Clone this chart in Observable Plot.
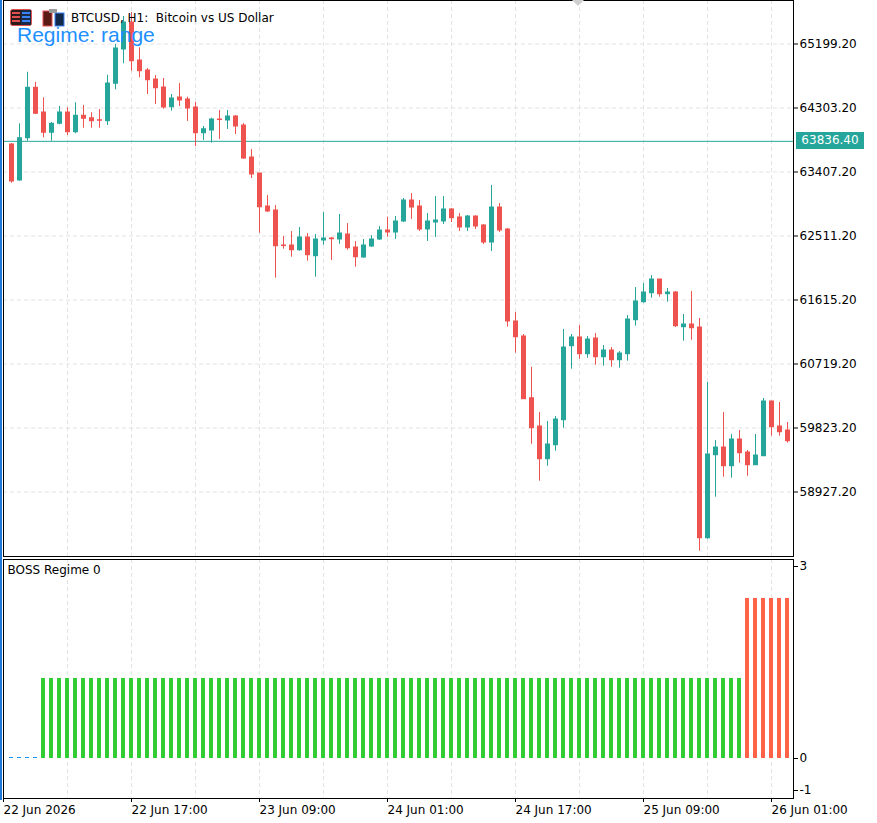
<!DOCTYPE html>
<html><head><meta charset="utf-8">
<script src="https://cdn.jsdelivr.net/npm/d3@7"></script>
<script src="https://cdn.jsdelivr.net/npm/@observablehq/plot@0.6"></script>
<style>
body{margin:0;background:#fff;}
#wrap{position:relative;width:877px;height:823px;overflow:hidden;background:#fff;font-family:"DejaVu Sans",sans-serif;}
.abs{position:absolute;}
</style></head><body>
<div id="wrap">
  <div id="main" class="abs" style="left:0;top:0"></div>
  <div id="sub" class="abs" style="left:0;top:557px"></div>
  <div class="abs" style="left:0;top:0;width:2px;height:800px;background:#1E78D7"></div>
  <svg class="abs" style="left:0;top:0" width="877" height="30">
    <polygon points="572,0 584,0 578,6" fill="#cfcfcf"/>
    <rect x="10.5" y="9.5" width="21" height="16" rx="2" fill="#2b1a1a" stroke="#e05050"/>
    <rect x="21" y="10" width="10" height="15" fill="#1b2a44"/>
    <rect x="12" y="12" width="8" height="2" fill="#e05050"/><rect x="22" y="12" width="8" height="2" fill="#3b82f6"/>
    <rect x="12" y="16" width="8" height="2" fill="#e05050"/><rect x="22" y="16" width="8" height="2" fill="#3b82f6"/>
    <rect x="12" y="20" width="8" height="2" fill="#e05050"/><rect x="22" y="20" width="8" height="2" fill="#3b82f6"/>
    <rect x="43" y="11" width="9" height="15" fill="#5a1c14" stroke="#e05050"/>
    <rect x="55" y="13" width="9" height="13" fill="#13294a" stroke="#3b82f6"/>
    <rect x="49" y="9" width="8" height="4" fill="#9a9a9a"/>
  </svg>
  <div class="abs" style="left:71px;top:11px;font-size:12px;line-height:14px;white-space:pre;color:#000">BTCUSD, H1:  Bitcoin vs US Dollar</div>
  <div class="abs" style="left:17px;top:24px;font-family:'Liberation Sans',Arial,sans-serif;font-size:21px;line-height:1;color:#1E90FF;white-space:pre">Regime: range</div>
  <div id="pricebox" class="abs" style="left:796px;width:68px;height:17px;background:#26A69A;color:#fff;font-size:12px;line-height:17px;text-align:center">63836.40</div>
</div>
<script>
// ---- data ----
const firstBarTime = "2026-06-22T02:00:00Z"; // bar 1 (hourly bars, H1)
const opens = [
63792,63288,63880,64586,64240,63956,64082,64240,63964,64194,
64160,64132,64118,64642,65122,65500,64968,64828,64702,64590,
64314,64450,64422,64310,63950,63988,64142,64128,64184,64058,
63610,63386,62924,62868,62378,62378,62312,62490,62228,62448,
62476,62462,62532,62350,62210,62364,62462,62588,62560,62714,
63008,62924,62602,62700,62714,62882,62770,62630,62784,62658,
62420,62910,62602,61314,61104,60240,59844,59386,59582,59932,
60968,61090,60856,61076,60814,60908,60772,60856,61332,61584,
61710,61902,61696,61720,61234,61272,61230,58280,59442,59550,
59288,59662,59480,59302,59428,60194,59844,59788];
const highs = [
63806,64082,64804,64664,64446,64100,64324,64306,64376,64338,
64236,64282,64762,65192,65584,65640,65146,64856,64758,64716,
64492,64646,64454,64380,64044,64160,64268,64268,64198,64086,
63722,63386,63078,62938,62504,62574,62630,62546,62532,62840,
62490,62812,62686,62434,62462,62518,62644,62774,62784,63036,
63106,63008,62826,63064,63064,62896,62826,62798,62791,62672,
63218,62966,62616,61440,61132,60674,60040,59914,59984,61202,
61132,61258,61104,61146,60978,60950,60894,61398,61790,61846,
61958,61902,61776,61734,61412,61734,61356,60460,59648,60040,
59732,59788,59508,59732,60236,60201,60180,59900];
const lows = [
63250,63281,63838,64212,63886,63838,64068,63918,63942,64020,
64020,64020,64058,64558,64922,64818,64726,64492,64352,64286,
64258,64324,64114,63764,63848,63810,63862,64002,63932,63582,
63316,62549,62840,61920,62326,62214,62298,62158,61934,62382,
62168,62396,62312,62074,62200,62350,62448,62494,62462,62700,
62742,62574,62434,62490,62672,62700,62574,62574,62602,62392,
62294,62560,61234,60870,60222,59596,59078,59288,59498,59820,
60646,60786,60800,60702,60688,60674,60660,60758,61248,61570,
61640,61654,61584,61230,61038,61052,58098,58266,58854,59134,
59120,59330,59148,59298,59424,59708,59708,59610];
const closes = [
63274,63880,64586,64222,63956,64082,64240,63964,64194,64152,
64118,64124,64646,65136,65500,64958,64818,64692,64580,64310,
64436,64408,64296,63950,64006,64142,64134,64184,64044,63596,
63372,62913,62854,62368,62370,62312,62490,62242,62462,62476,
62466,62546,62340,62214,62378,62462,62588,62560,62714,63008,
62910,62602,62714,62728,62882,62760,62630,62784,62644,62420,
62910,62588,61314,61094,60226,59820,59386,59592,59942,60950,
61090,60856,61062,60814,60908,60772,60866,61342,61594,61720,
61902,61696,61720,61248,61272,61220,58280,59452,59550,59288,
59662,59470,59302,59438,60194,59834,59764,59638];
const regime = [
0,0,0,0,1,1,1,1,1,1,
1,1,1,1,1,1,1,1,1,1,
1,1,1,1,1,1,1,1,1,1,
1,1,1,1,1,1,1,1,1,1,
1,1,1,1,1,1,1,1,1,1,
1,1,1,1,1,1,1,1,1,1,
1,1,1,1,1,1,1,1,1,1,
1,1,1,1,1,1,1,1,1,1,
1,1,1,1,1,1,1,1,1,1,
1,1,2,2,2,2,2,2];
const priceTicks = [58927.20, 59823.20, 60719.20, 61615.20, 62511.20, 63407.20, 64303.20, 65199.20];
const currentPrice = 63836.40;
const regimeScaleMax = 3, regimeScaleMin = -1;
const timeLabels = ["2026-06-22T01:00:00Z","2026-06-22T17:00:00Z","2026-06-23T09:00:00Z","2026-06-24T01:00:00Z","2026-06-24T17:00:00Z","2026-06-25T09:00:00Z","2026-06-26T01:00:00Z"];
const regimeColors = {0:"#1E90FF", 1:"#32CD32", 2:"#FF6347"};
const upColor = "#26A69A", downColor = "#EF5350";
const indicatorName = "BOSS Regime 0";

// ---- build ----
const t1 = new Date(firstBarTime);
const bars = opens.map((o, i) => ({
  t: d3.utcHour.offset(t1, i), open: o, high: highs[i], low: lows[i], close: closes[i], regime: regime[i]
}));
const labelDates = timeLabels.map(s => new Date(s));
const xStart = d3.utcHour.offset(t1, -1);
const xEnd = d3.utcMinute.offset(xStart, 98.75 * 60);
const gridTimes = d3.utcHour.range(xStart, xEnd, 1).filter((d, i) => i % 8 === 0);
const ups = bars.filter(d => d.close >= d.open);
const downs = bars.filter(d => d.close < d.open);
const gridStyle = {stroke: "#e3e3e3", strokeOpacity: 1, strokeDasharray: "4,3"};
const style = {fontFamily: "'DejaVu Sans', sans-serif", fontSize: "12px", color: "#000", background: "transparent", overflow: "visible"};

const main = Plot.plot({
  width: 877, height: 557,
  marginLeft: 3, marginRight: 84, marginTop: 0, marginBottom: 1,
  x: {type: "utc", domain: [xStart, xEnd], axis: null},
  y: {domain: [58024, 65808], axis: null},
  style,
  marks: [
    Plot.gridX(gridTimes, gridStyle),
    Plot.gridY(priceTicks, gridStyle),
    Plot.ruleY([currentPrice], {stroke: upColor, strokeWidth: 1}),
    Plot.ruleX(ups, {x: "t", y1: "low", y2: "high", stroke: upColor}),
    Plot.ruleX(downs, {x: "t", y1: "low", y2: "high", stroke: downColor}),
    Plot.rect(ups, {x1: "t", x2: "t", y1: "open", y2: "close", fill: upColor, insetLeft: -2, insetRight: -3, insetTop: -0.5, insetBottom: -0.5}),
    Plot.rect(downs, {x1: "t", x2: "t", y1: "open", y2: "close", fill: downColor, insetLeft: -2, insetRight: -3, insetTop: -0.5, insetBottom: -0.5}),
    Plot.axisY(priceTicks, {anchor: "right", label: null, tickSize: 4, tickPadding: 2, tickFormat: d => d.toFixed(2), fill: "#000", stroke: "#000"}),
    Plot.frame({stroke: "#000"})
  ]
});
document.getElementById("main").append(main);
const yPx = main.scale("y").apply(currentPrice);
document.getElementById("pricebox").style.top = (yPx - 8.5) + "px";

const sub = Plot.plot({
  width: 877, height: 266,
  marginLeft: 3, marginRight: 84, marginTop: 2, marginBottom: 25,
  x: {type: "utc", domain: [xStart, xEnd], axis: null},
  y: {domain: [-0.5, 2.4875], axis: null},
  color: {type: "identity"},
  style,
  marks: [
    Plot.gridX(gridTimes, gridStyle),
    Plot.rect(bars.filter(d => d.regime > 0), {x1: "t", x2: "t", y1: 0, y2: "regime", fill: d => regimeColors[d.regime], insetLeft: -2, insetRight: -2}),
    Plot.rect(bars.filter(d => d.regime === 0), {x1: "t", x2: "t", y1: 0, y2: "regime", fill: d => regimeColors[d.regime], insetLeft: -2, insetRight: -2, insetTop: -1}),
    Plot.axisY([0], {anchor: "right", label: null, tickSize: 4, tickPadding: 2, tickFormat: d => String(d), fill: "#000", stroke: "#000"}),
    Plot.axisY([2.4875], {anchor: "right", label: null, tickSize: 4, tickPadding: 2, tickFormat: () => String(regimeScaleMax), dy: 7, fill: "#000", stroke: "#000"}),
    Plot.axisY([-0.5], {anchor: "right", label: null, tickSize: 4, tickPadding: 2, tickFormat: () => String(regimeScaleMin), dy: -8, fill: "#000", stroke: "#000"}),
    Plot.axisX(labelDates, {anchor: "bottom", label: null, tickSize: 4, tickPadding: 3, textAnchor: "start", fill: "#000", stroke: "#000",
      tickFormat: d => (+d === +labelDates[0] ? d3.utcFormat("%d %b %Y")(d) : d3.utcFormat("%d %b %H:%M")(d))}),
    Plot.text([indicatorName], {text: d => d, frameAnchor: "top-left", textAnchor: "start", lineAnchor: "top", dx: 4, dy: 6, fill: "#000"}),
    Plot.frame({stroke: "#000"})
  ]
});
document.getElementById("sub").append(sub);
</script>
</body></html>
